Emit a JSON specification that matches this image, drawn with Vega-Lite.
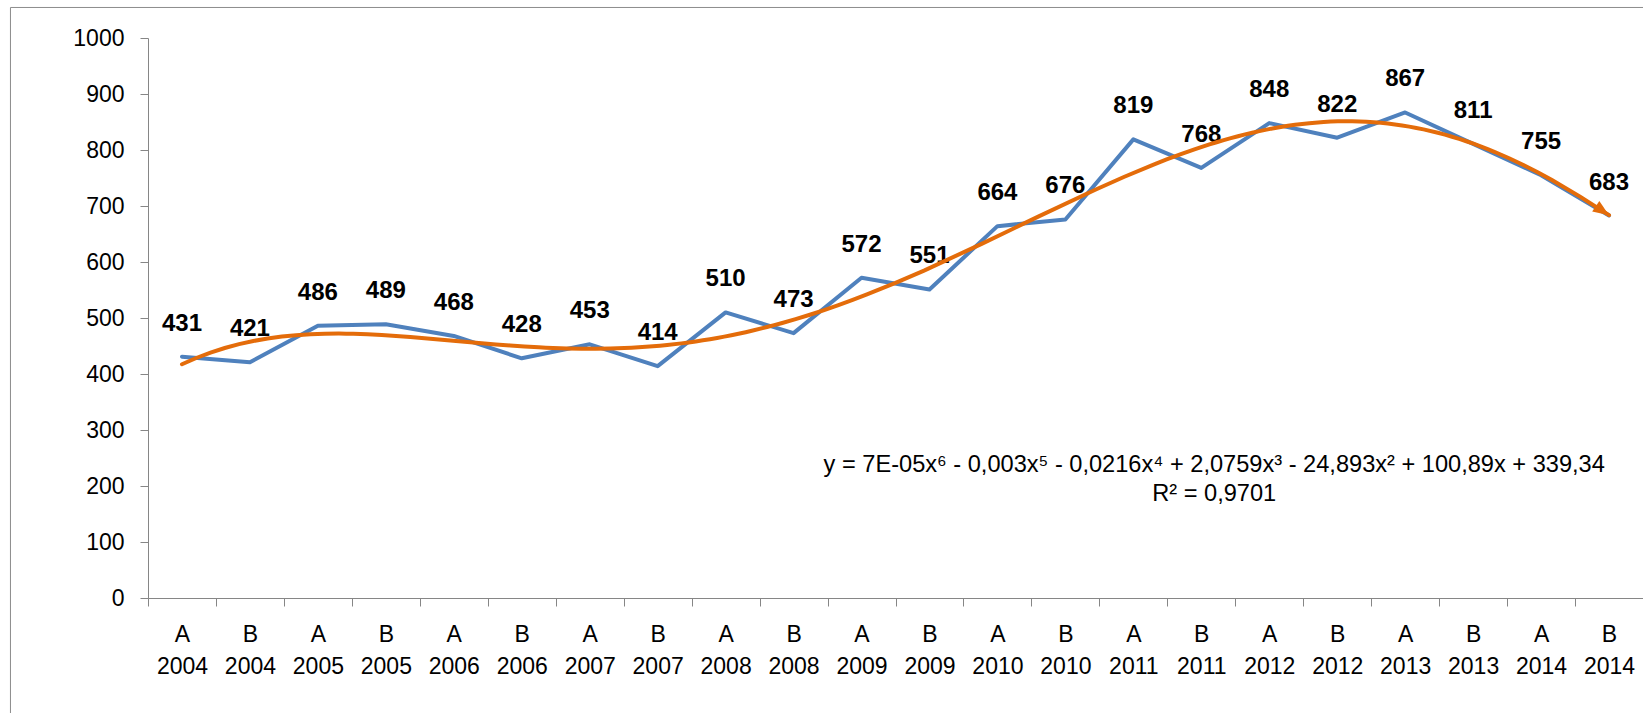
{
  "$schema": "https://vega.github.io/schema/vega-lite/v6.json",
  "width": 1495,
  "height": 560,
  "autosize": "none",
  "padding": {"left": 148, "top": 38, "right": 0, "bottom": 115},
  "background": "white",
  "config": {"view": {"stroke": null}, "font": "Liberation Sans"},
  "datasets": {
    "series": [
      {"label": "A 2004", "i": 1, "v": 431},
      {"label": "B 2004", "i": 2, "v": 421},
      {"label": "A 2005", "i": 3, "v": 486},
      {"label": "B 2005", "i": 4, "v": 489},
      {"label": "A 2006", "i": 5, "v": 468},
      {"label": "B 2006", "i": 6, "v": 428},
      {"label": "A 2007", "i": 7, "v": 453},
      {"label": "B 2007", "i": 8, "v": 414},
      {"label": "A 2008", "i": 9, "v": 510},
      {"label": "B 2008", "i": 10, "v": 473},
      {"label": "A 2009", "i": 11, "v": 572},
      {"label": "B 2009", "i": 12, "v": 551},
      {"label": "A 2010", "i": 13, "v": 664},
      {"label": "B 2010", "i": 14, "v": 676},
      {"label": "A 2011", "i": 15, "v": 819},
      {"label": "B 2011", "i": 16, "v": 768},
      {"label": "A 2012", "i": 17, "v": 848},
      {"label": "B 2012", "i": 18, "v": 822},
      {"label": "A 2013", "i": 19, "v": 867},
      {"label": "B 2013", "i": 20, "v": 811},
      {"label": "A 2014", "i": 21, "v": 755},
      {"label": "B 2014", "i": 22, "v": 683}
    ],
    "notes": [
      {"i": 16.19, "v": 238, "t": "y = 7E-05x⁶ - 0,003x⁵ - 0,0216x⁴ + 2,0759x³ - 24,893x² + 100,89x + 339,34"},
      {"i": 16.19, "v": 185, "t": "R² = 0,9701"}
    ]
  },
  "resolve": {"scale": {"x": "independent"}},
  "layer": [
    {
      "data": {"name": "series"},
      "layer": [
        {
          "mark": {"type": "line", "color": "#4f81bd", "strokeWidth": 4, "strokeJoin": "round", "strokeCap": "round"},
          "encoding": {
            "x": {
              "field": "label", "type": "ordinal", "sort": null, "bandPosition": 0.5,
              "scale": {"type": "band", "paddingInner": 0, "paddingOuter": 0},
              "axis": {
                "title": null, "labelAngle": 0,
                "labelExpr": "isString(datum.value) ? split(datum.value, ' ') : ''",
                "tickBand": "extent", "domainColor": "#868686", "tickColor": "#868686",
                "tickSize": 8, "labelFontSize": 23, "labelColor": "black",
                "labelPadding": 17, "labelLineHeight": 32, "labelBaseline": "top"
              }
            },
            "y": {
              "field": "v", "type": "quantitative",
              "scale": {"domain": [0, 1000], "nice": false},
              "axis": {
                "title": null, "grid": false, "format": "d",
                "values": [0, 100, 200, 300, 400, 500, 600, 700, 800, 900, 1000],
                "domainColor": "#868686", "tickColor": "#868686", "tickSize": 8,
                "labelFontSize": 23, "labelColor": "black", "labelPadding": 16
              }
            }
          }
        },
        {
          "mark": {"type": "text", "fontWeight": "bold", "fontSize": 24, "align": "center", "baseline": "alphabetic", "dy": -26, "color": "black"},
          "encoding": {
            "x": {"field": "label", "type": "ordinal", "sort": null, "bandPosition": 0.5},
            "y": {"field": "v", "type": "quantitative"},
            "text": {"field": "v", "type": "quantitative"}
          }
        }
      ]
    },
    {
      "layer": [
        {
          "data": {"name": "series"},
          "transform": [{"regression": "v", "on": "i", "method": "poly", "order": 6, "extent": [1, 22]}],
          "mark": {"type": "line", "color": "#e46c0a", "strokeWidth": 4, "strokeCap": "round"},
          "encoding": {
            "x": {"field": "i", "type": "quantitative", "scale": {"domain": [0.5, 22.5], "nice": false, "zero": false}, "axis": null},
            "y": {"field": "v", "type": "quantitative"}
          }
        },
        {
          "data": {"name": "series"},
          "transform": [
            {"regression": "v", "on": "i", "method": "poly", "order": 6, "extent": [1, 22]},
            {"filter": "datum.i > 21.999"}
          ],
          "mark": {"type": "point", "shape": "M0,0L-2,-0.8L-2,0.8Z", "size": 256, "angle": 34, "filled": true, "color": "#e46c0a", "opacity": 1},
          "encoding": {
            "x": {"field": "i", "type": "quantitative"},
            "y": {"field": "v", "type": "quantitative"}
          }
        },
        {
          "data": {"name": "notes"},
          "mark": {"type": "text", "fontSize": 23.6, "align": "center", "baseline": "middle", "color": "black"},
          "encoding": {
            "x": {"field": "i", "type": "quantitative"},
            "y": {"field": "v", "type": "quantitative"},
            "text": {"field": "t"}
          }
        },
        {
          "data": {"values": [{}]},
          "mark": {"type": "rect", "filled": false, "stroke": "#8c8c8c", "strokeWidth": 1},
          "encoding": {
            "x": {"datum": -1.524, "type": "quantitative"},
            "x2": {"datum": 30},
            "y": {"datum": 1054.5, "type": "quantitative"},
            "y2": {"datum": -300}
          }
        }
      ]
    }
  ]
}
